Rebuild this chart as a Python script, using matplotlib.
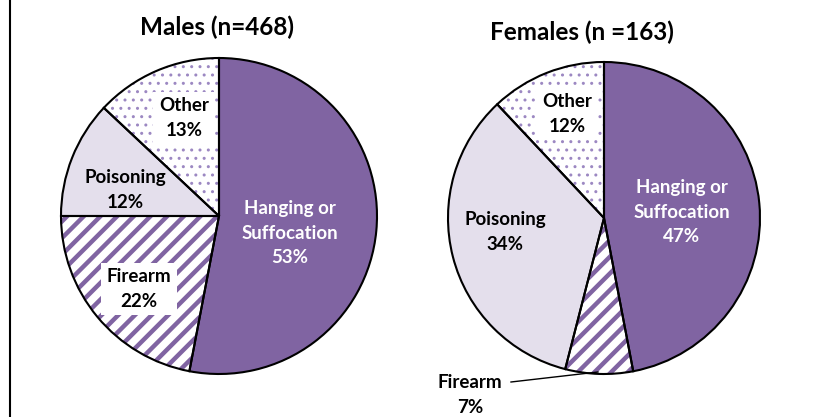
import matplotlib
matplotlib.use('Agg')
import matplotlib.pyplot as plt

plt.rcParams['font.family'] = ['Lato', 'DejaVu Sans']

categories = ['Hanging or\nSuffocation', 'Firearm', 'Poisoning', 'Other']
males = [53, 22, 12, 13]
females = [47, 7, 34, 12]
titles = ['Males (n=468)', 'Females (n =163)']

purple = '#8064A2'
dotc = '#9C88C2'
lavender = '#E4DFEC'
fills = [purple, 'white', lavender, 'white']

W, H = 819, 417
fig = plt.figure(figsize=(W / 100, H / 100), dpi=100)
ax = fig.add_axes([0, 0, 1, 1])


def draw_pie(vals, cx, cy, r):
    c = (cx, H - cy)
    common = dict(startangle=90, counterclock=False, center=c, radius=r)
    # plain fills
    ax.pie(vals, colors=fills, wedgeprops=dict(linewidth=0), **common)
    # stripes on firearm (hatch uses edge colour)
    with plt.rc_context({'hatch.linewidth': 3.2}):
        w, _ = ax.pie(vals, colors=['none'] * 4,
                      wedgeprops=dict(linewidth=0, fill=False), **common)
        w[1].set_hatch('//')
        w[1].set_edgecolor(purple)
    # dots on other
    with plt.rc_context({'hatch.linewidth': 1.0}):
        w, _ = ax.pie(vals, colors=['none'] * 4,
                      wedgeprops=dict(linewidth=0, fill=False), **common)
        w[3].set_hatch('..')
        w[3].set_edgecolor(dotc)
    # outlines
    ax.pie(vals, colors=['none'] * 4,
           wedgeprops=dict(linewidth=1.5, edgecolor='black', fill=False),
           **common)


draw_pie(males, 219, 216, 158)
draw_pie(females, 604, 218, 156)


def lab(x, y, s, color='black', box=False):
    kw = dict(ha='center', va='center', fontsize=13.5, fontweight='bold',
              color=color, linespacing=1.55)
    if box:
        kw['bbox'] = dict(boxstyle='square,pad=0.3', fc='white', ec='none')
    ax.text(x, H - y, s, **kw)


def pct(name, v):
    return f'{name}\n{v}%'


# males
lab(290, 233, pct(categories[0], males[0]), color='white')
lab(139, 289, pct(categories[1], males[1]), box=True)
lab(125, 190, pct(categories[2], males[2]))
lab(184, 118, pct(categories[3], males[3]), box=True)

# females
lab(682, 212, pct(categories[0], females[0]), color='white')
lab(567, 114, pct(categories[3], females[3]), box=True)
lab(505, 232, pct(categories[2], females[2]))
lab(470, 395, pct(categories[1], females[1]))
ax.plot([511, 598], [H - 382, H - 372], color='black', lw=1)

ax.text(217, H - 27, titles[0], ha='center', va='center', fontsize=17.5,
        fontweight='bold')
ax.text(582, H - 32, titles[1], ha='center', va='center', fontsize=17.5,
        fontweight='bold')

# left border line
ax.plot([9.5, 9.5], [0, H], color='black', lw=1.5)

ax.set_xlim(0, W)
ax.set_ylim(0, H)
ax.set_aspect('equal')
ax.axis('off')

fig.savefig('out.png', dpi=100)
